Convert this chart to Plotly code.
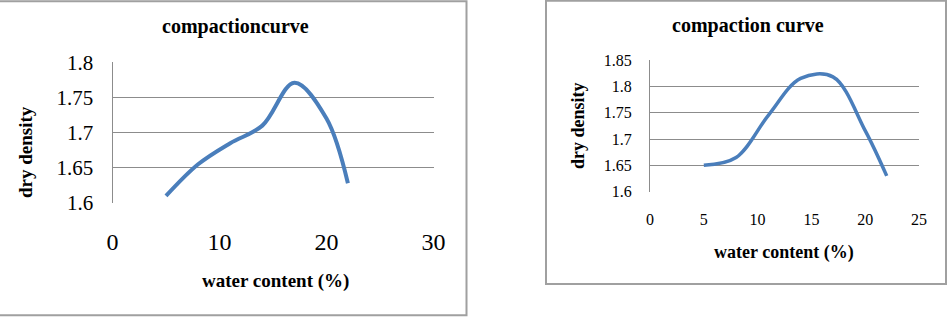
import plotly.graph_objects as go

W, H = 950, 318

# Data
water_content = [5, 8, 11, 14, 17, 20, 22]
dry_density_left = [1.61, 1.655, 1.685, 1.71, 1.771, 1.72, 1.628]
dry_density_right = [1.65, 1.665, 1.745, 1.815, 1.818, 1.716, 1.63]

left_xticks = [0, 10, 20, 30]
left_yticks = [1.6, 1.65, 1.7, 1.75, 1.8]
right_xticks = [0, 5, 10, 15, 20, 25]
right_yticks = [1.6, 1.65, 1.7, 1.75, 1.8, 1.85]

title_left = "compactioncurve"
title_right = "compaction curve"
xlabel = "water content (%)"
ylabel = "dry density"

LINE = "#4A7EBB"
GRID = "#8C8C8C"
FONT = "Liberation Serif"

def px(x):
    return x / W

def py(y):
    return 1 - y / H

fig = go.Figure()
fig.add_trace(go.Scatter(x=water_content, y=dry_density_left, mode="lines",
                         line=dict(color=LINE, width=4, shape="spline", smoothing=1.0),
                         xaxis="x", yaxis="y", showlegend=False))
fig.add_trace(go.Scatter(x=water_content, y=dry_density_right, mode="lines",
                         line=dict(color=LINE, width=3.5, shape="spline", smoothing=1.0),
                         xaxis="x2", yaxis="y2", showlegend=False))

common_x = dict(showgrid=False, zeroline=False, showline=False, ticks="",
                fixedrange=True, automargin=False)
common_y = dict(showgrid=True, gridcolor=GRID, gridwidth=1, zeroline=False,
                showline=True, linecolor=GRID, linewidth=1, ticks="", fixedrange=True,
                automargin=False)

fig.update_layout(
    template="none",
    width=W, height=H, autosize=False,
    margin=dict(l=0, r=0, t=0, b=0, pad=0),
    paper_bgcolor="white", plot_bgcolor="white",
    font=dict(family=FONT, color="black"),
    xaxis=dict(domain=[px(112.5), px(433.5)], range=[0, 30], tickvals=left_xticks,
               tickfont=dict(family=FONT, size=24, color="black"), anchor="y",
               ticklabelstandoff=22, **common_x),
    yaxis=dict(domain=[py(203), py(62.3)], range=[1.6, 1.8], tickvals=left_yticks,
               ticktext=[f"{v:g}" for v in left_yticks],
               tickfont=dict(family=FONT, size=21, color="black"), anchor="x",
               ticklabelstandoff=14, **common_y),
    xaxis2=dict(domain=[px(650), px(919)], range=[0, 25], tickvals=right_xticks,
                tickfont=dict(family=FONT, size=16, color="black"), anchor="y2",
                ticklabelstandoff=16, **common_x),
    yaxis2=dict(domain=[py(191.7), py(60)], range=[1.6, 1.85], tickvals=right_yticks,
                ticktext=[f"{v:g}" for v in right_yticks],
                tickfont=dict(family=FONT, size=16, color="black"), anchor="x2",
                ticklabelstandoff=14, **common_y),
)

# chart frames
BORDER = "#A0A0A0"
fig.add_shape(type="rect", xref="paper", yref="paper",
              x0=px(-1), x1=px(466.5), y0=py(315.3), y1=py(1.3),
              line=dict(color=BORDER, width=2), fillcolor="rgba(0,0,0,0)", layer="below")
fig.add_shape(type="rect", xref="paper", yref="paper",
              x0=px(546), x1=px(946), y0=py(284), y1=py(0.8),
              line=dict(color=BORDER, width=2), fillcolor="rgba(0,0,0,0)", layer="below")

def ann(text, x, y, size, angle=0):
    fig.add_annotation(text=f"<b>{text}</b>", xref="paper", yref="paper",
                       x=px(x), y=py(y), xanchor="center", yanchor="middle",
                       showarrow=False, textangle=angle,
                       font=dict(family=FONT, size=size, color="black"))

ann(title_left, 235, 27, 20)
ann(xlabel, 275, 281, 19)
ann(ylabel, 25, 152, 19, -90)
ann(title_right, 748, 26, 20)
ann(xlabel, 784, 252, 18)
ann(ylabel, 578, 126, 18, -90)

fig.write_html("out.html")
